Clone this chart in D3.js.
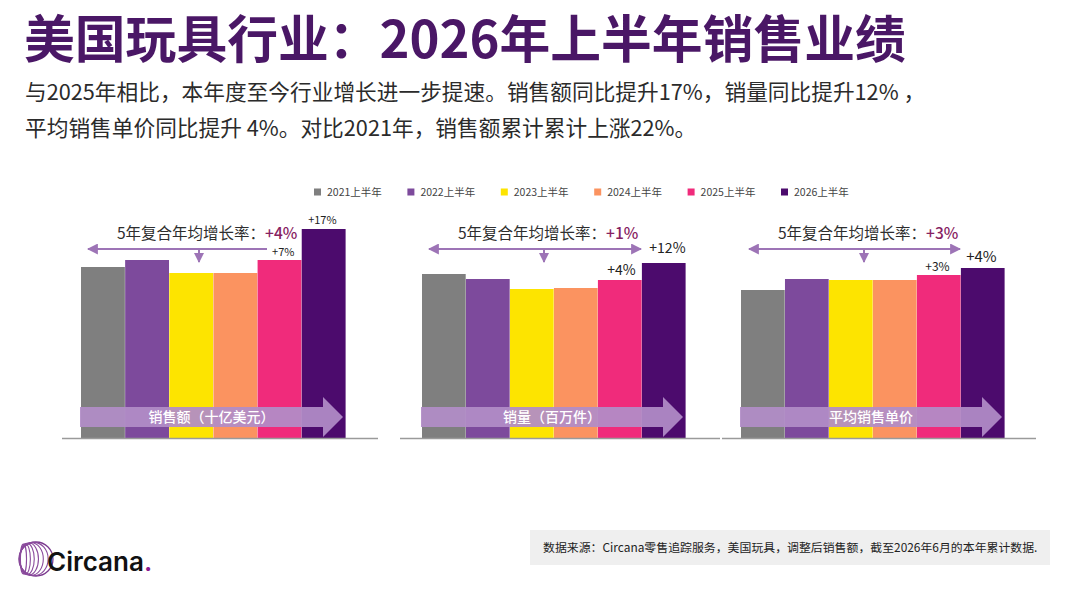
<!DOCTYPE html>
<html><head><meta charset="utf-8">
<script src="https://cdn.jsdelivr.net/npm/d3@7"></script>
<style>
html,body{margin:0;padding:0;background:#fff;}
svg{display:block;font-family:"Noto Sans CJK SC","Noto Sans",sans-serif;}
</style></head>
<body>
<svg id="chart" width="1080" height="591"></svg>
<script>
// ---------- data ----------
const years = ["2021上半年","2022上半年","2023上半年","2024上半年","2025上半年","2026上半年"];
const colors = ["#7f7f7f","#7d4a9c","#fde400","#fb9360","#f02b7b","#4c0b6d"];
// relative bar heights (no axis in the original)
const salesValues = [171,178,165,165,178,209];
const unitsValues = [164,159,149,150,158,175];
const aspValues   = [148,159,158,158,163,170];
const panelNames  = ["销售额（十亿美元）","销量（百万件）","平均销售单价"];
const cagrLabels  = ["+4%","+1%","+3%"];
const yoy2025     = ["+7%","+4%","+3%"];
const yoy2026     = ["+17%","+12%","+4%"];

// ---------- layout ----------
const svg = d3.select("#chart");
const baseY = 438;
const y = d3.scaleLinear().domain([0,209]).range([baseY, baseY-209]);

const panels = [
  {values:salesValues, range:[81,345], line:[62,378], text:[117,233], arrow:[88,267], tick:199, rightHead:false,
   l25:{dx:4,dy:-4.5,fs:11}, l26:{dx:-1,dy:-5,fs:11}},
  {values:unitsValues, range:[422,685], line:[400,720], text:[458,233], arrow:[429,641], tick:544, rightHead:true,
   l25:{dx:2,dy:-5,fs:14}, l26:{dx:4,dy:-10,fs:14}},
  {values:aspValues, range:[741,1004], line:[722,1036], text:[778,233], arrow:[749,960], tick:864, rightHead:true,
   l25:{dx:-1,dy:-4,fs:12}, l26:{dx:-1,dy:-6,fs:15}}
];

// title
svg.append("text").attr("x",24).attr("y",58)
  .attr("font-size",50.8).attr("font-weight",700).attr("fill","#4a1766")
  .text("美国玩具行业：2026年上半年销售业绩");
svg.append("text").attr("x",25).attr("y",100)
  .attr("font-size",21.7).attr("fill","#2b2b2b")
  .text("与2025年相比，本年度至今行业增长进一步提速。销售额同比提升17%，销量同比提升12% ，");
svg.append("text").attr("x",25).attr("y",136)
  .attr("font-size",21.7).attr("fill","#2b2b2b")
  .text("平均销售单价同比提升 4%。对比2021年，销售额累计累计上涨22%。");

// legend
const legend = svg.append("g");
years.forEach((yr,i)=>{
  const lx = 314 + i*93.4;
  legend.append("rect").attr("x",lx).attr("y",188.5).attr("width",7).attr("height",7).attr("fill",colors[i]);
  legend.append("text").attr("x",lx+13).attr("y",195.5).attr("font-size",10.5).attr("fill","#444").text(yr);
});

const defs = svg.append("defs");
defs.append("marker").attr("id","ah").attr("viewBox","0 0 10 10").attr("refX",9).attr("refY",5)
  .attr("markerWidth",5).attr("markerHeight",5).attr("orient","auto-start-reverse")
  .append("path").attr("d","M0,0L10,5L0,10z").attr("fill","#9d74b6");

panels.forEach((p,pi)=>{
  const g = svg.append("g");
  const x = d3.scaleBand().domain(years).range(p.range).paddingInner(0.02);
  // bars
  g.selectAll("rect.bar").data(p.values).join("rect").attr("class","bar")
    .attr("x",(d,i)=>x(years[i])).attr("width",x.bandwidth()+0.6)
    .attr("y",d=>y(d)).attr("height",d=>baseY-y(d))
    .attr("fill",(d,i)=>colors[i]);
  // baseline
  g.append("line").attr("x1",p.line[0]).attr("x2",p.line[1]).attr("y1",baseY+0.5).attr("y2",baseY+0.5)
    .attr("stroke","#9a9a9a").attr("stroke-width",1.5);
  // big arrow
  const x0 = p.range[0]-1, x1 = p.range[1]-2, headL = 20, cy = 417;
  g.append("path")
    .attr("d",`M${x0},${cy-10}L${x1-headL},${cy-10}L${x1-headL},${cy-20}L${x1},${cy}L${x1-headL},${cy+20}L${x1-headL},${cy+10}L${x0},${cy+10}Z`)
    .attr("fill","#b18dc7").attr("opacity",0.93);
  g.append("text").attr("x",(x0+x1)/2).attr("y",cy+5).attr("text-anchor","middle")
    .attr("font-size",14).attr("font-weight",500).attr("fill","#fff").text(panelNames[pi]);
  // CAGR annotation
  const t = g.append("text").attr("x",p.text[0]).attr("y",p.text[1]+6).attr("font-size",15.5).attr("fill","#2e2e2e");
  t.append("tspan").text("5年复合年均增长率：");
  t.append("tspan").attr("fill","#872262").attr("font-weight",500).text(cagrLabels[pi]);
  const ln = g.append("line").attr("x1",p.arrow[1]).attr("x2",p.arrow[0]).attr("y1",249).attr("y2",249)
    .attr("stroke","#9d74b6").attr("stroke-width",2.2).attr("marker-end","url(#ah)");
  if(p.rightHead) ln.attr("marker-start","url(#ah)");
  g.append("line").attr("x1",p.tick).attr("x2",p.tick).attr("y1",249).attr("y2",262)
    .attr("stroke","#9d74b6").attr("stroke-width",2).attr("marker-end","url(#ah)");
  // yoy labels
  const c25 = x(years[4])+x.bandwidth()/2, c26 = x(years[5])+x.bandwidth()/2;
  g.append("text").attr("x",c25+p.l25.dx).attr("y",y(p.values[4])+p.l25.dy).attr("text-anchor","middle")
    .attr("font-size",p.l25.fs).attr("fill","#222").text(yoy2025[pi]);
  g.append("text").attr("x",c26+p.l26.dx).attr("y",y(p.values[5])+p.l26.dy).attr("text-anchor","middle")
    .attr("font-size",p.l26.fs).attr("fill","#222").text(yoy2026[pi]);
});

// footer source box
svg.append("rect").attr("x",530).attr("y",530).attr("width",520).attr("height",35).attr("fill","#efefef");
svg.append("text").attr("x",543).attr("y",552).attr("font-size",11.9).attr("fill","#222")
  .text("数据来源：Circana零售追踪服务，美国玩具，调整后销售额，截至2026年6月的本年累计数据.");

// logo
const logo = svg.append("g");
const lcx = 36, lcy = 559, lr = 17;
logo.append("circle").attr("cx",lcx).attr("cy",lcy).attr("r",lr).attr("fill","none").attr("stroke","#7b3a8f").attr("stroke-width",1.3);
[0.85,0.7,0.55,0.42,0.3,0.18].forEach((k,i)=>{
  logo.append("ellipse").attr("cx",lcx - lr*(1-k)*0.9).attr("cy",lcy).attr("rx",lr*k).attr("ry",lr*(0.98-i*0.02))
    .attr("fill","none").attr("stroke","#8a4a9c").attr("stroke-width",1.1);
});
const lt = logo.append("text").attr("x",47).attr("y",571).attr("font-size",26).attr("font-weight",600)
  .attr("font-family","Inter, 'Noto Sans', sans-serif").attr("fill","#111");
lt.append("tspan").text("Circana");
lt.append("tspan").attr("fill","#8a1a8f").text(".");
</script>
</body></html>
